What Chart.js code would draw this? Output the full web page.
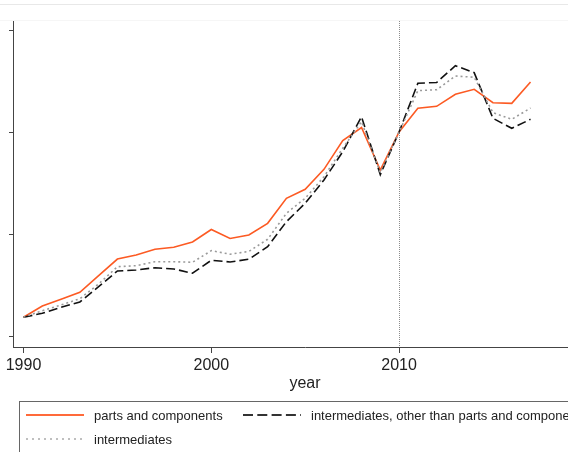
<!DOCTYPE html>
<html>
<head>
<meta charset="utf-8">
<script src="https://cdn.jsdelivr.net/npm/chart.js@4.4.1/dist/chart.umd.min.js"></script>
<style>
  html, body { margin: 0; padding: 0; overflow: hidden; background: #fff; width: 568px; height: 452px; }
  #wrap { position: relative; width: 600px; height: 452px; font-family: "Liberation Sans", Arial, sans-serif; color: #222; }
  #chart { position: absolute; left: 0; top: 0; }
  .txt { position: absolute; white-space: nowrap; line-height: 1; transform: translateY(-50%); }
  #xtitle { left: 305px; top: 383px; font-size: 16px; transform: translate(-50%, -50%); }
  #legendBox { position: absolute; left: 19px; top: 401px; width: 620px; height: 80px; border: 1px solid #666; box-sizing: border-box; }
  .leg { font-size: 13px; }
  svg.sample { position: absolute; }
</style>
</head>
<body>
<div id="wrap">
  <canvas id="chart" width="600" height="452"></canvas>
  <div id="xtitle" class="txt">year</div>
  <div id="legendBox"></div>
  <svg class="sample" style="left:26px;top:413px" width="58" height="4"><line x1="0" y1="2" x2="58" y2="2" stroke="#ff6a3a" stroke-width="2"/></svg>
  <div class="txt leg" style="left:94px;top:415px">parts and components</div>
  <svg class="sample" style="left:243px;top:413px" width="58" height="4"><line x1="0" y1="2" x2="58" y2="2" stroke="#333" stroke-width="2" stroke-dasharray="10 4.3"/></svg>
  <div class="txt leg" style="left:311px;top:415px">intermediates, other than parts and components</div>
  <svg class="sample" style="left:26px;top:437px" width="58" height="4"><line x1="0" y1="2" x2="58" y2="2" stroke="#aaa" stroke-width="1.5" stroke-dasharray="2 4"/></svg>
  <div class="txt leg" style="left:94px;top:439px">intermediates</div>
</div>
<script>
// years on the x axis
const years = [1990, 1991, 1992, 1993, 1994, 1995, 1996, 1997, 1998, 1999,
  2000, 2001, 2002, 2003, 2004, 2005, 2006, 2007, 2008, 2009,
  2010, 2011, 2012, 2013, 2014, 2015, 2016, 2017];

// series values (units of the y ticks)
const partsComponents = [19.3, 30.3, 36.9, 43.7, 59.9, 76.2, 80.2, 85.7, 87.7, 92.9,
  105.1, 96.3, 99.7, 111.1, 135.6, 144.4, 163.9, 191.9, 204.8, 163.2,
  200.4, 223.6, 225.5, 237.2, 242.1, 229.0, 228.4, 249.3];
const otherIntermediates = [19.3, 23.2, 29.0, 34.2, 49.2, 64.5, 65.5, 67.7, 66.5, 62.3,
  75.0, 73.3, 76.0, 88.3, 112.7, 130.7, 153.5, 181.1, 215.3, 158.7,
  200.4, 248.0, 248.8, 265.2, 258.4, 213.8, 204.0, 212.8];
const intermediates = [19.3, 25.7, 31.3, 37.4, 51.8, 68.7, 69.7, 73.6, 73.6, 73.0,
  84.4, 80.9, 83.6, 95.5, 120.9, 135.6, 156.7, 184.5, 210.5, 160.6,
  200.4, 240.8, 241.7, 255.1, 253.9, 219.3, 212.8, 223.8];

// tick values
const xTicks = [1990, 2000, 2010];
const yTicks = [0, 100, 200, 300];
const markYear = 2010;

function toPoints(vals) {
  return years.map((yr, i) => ({ x: yr, y: vals[i] }));
}

const axisColor = '#444';
const fontFamily = '"Liberation Sans", Arial, sans-serif';

// dotted line at 2010 and the faint frame line at the top
const refLine = {
  id: 'refLine',
  beforeDraw(chart) {
    const ctx = chart.ctx;
    ctx.save();
    ctx.fillStyle = '#e8e8e8';
    ctx.fillRect(0, 4, chart.width, 1);
    ctx.fillStyle = '#f6f6f6';
    ctx.fillRect(0, 20, chart.width, 1);
    ctx.restore();
  },
  beforeDatasetsDraw(chart) {
    const { ctx, chartArea, scales } = chart;
    const x = Math.round(scales.x.getPixelForValue(markYear)) + 0.5;
    ctx.save();
    ctx.strokeStyle = '#8c8c8c';
    ctx.lineWidth = 1;
    ctx.setLineDash([1, 1]);
    ctx.beginPath();
    ctx.moveTo(x, chartArea.top);
    ctx.lineTo(x, chartArea.bottom);
    ctx.stroke();
    ctx.restore();
  }
};

new Chart(document.getElementById('chart'), {
  type: 'line',
  data: {
    datasets: [
      {
        label: 'intermediates',
        data: toPoints(intermediates),
        borderColor: '#9a9a9a',
        borderWidth: 1.6,
        borderDash: [2, 3],
        pointRadius: 0,
        tension: 0,
        fill: false
      },
      {
        label: 'intermediates, other than parts and components',
        data: toPoints(otherIntermediates),
        borderColor: '#111',
        borderWidth: 1.6,
        borderDash: [9, 4],
        pointRadius: 0,
        tension: 0,
        fill: false
      },
      {
        label: 'parts and components',
        data: toPoints(partsComponents),
        borderColor: '#fc5a23',
        borderWidth: 1.6,
        pointRadius: 0,
        tension: 0,
        fill: false
      }
    ]
  },
  options: {
    responsive: false,
    animation: false,
    devicePixelRatio: 1,
    layout: { padding: { top: 21, right: 3, left: 0, bottom: 0 } },
    plugins: {
      legend: { display: false },
      tooltip: { enabled: false }
    },
    scales: {
      x: {
        type: 'linear',
        min: 1989.44,
        max: 2020.54,
        afterBuildTicks: s => { s.ticks = xTicks.map(v => ({ value: v })); },
        afterFit: s => { s.height = 105; },
        grid: { drawOnChartArea: false, drawTicks: true, tickLength: 6, color: axisColor },
        border: { color: axisColor, width: 1 },
        ticks: {
          font: { size: 16, family: fontFamily },
          color: '#222',
          padding: 3,
          maxRotation: 0,
          autoSkip: false,
          callback: v => String(v)
        }
      },
      y: {
        type: 'linear',
        min: -9.8,
        max: 308.9,
        afterBuildTicks: s => { s.ticks = yTicks.map(v => ({ value: v })); },
        afterFit: s => { s.width = 13; },
        grid: { drawOnChartArea: false, drawTicks: true, tickLength: 4, color: axisColor },
        border: { color: axisColor, width: 1 },
        ticks: { display: false }
      }
    }
  },
  plugins: [refLine]
});
</script>
</body>
</html>
